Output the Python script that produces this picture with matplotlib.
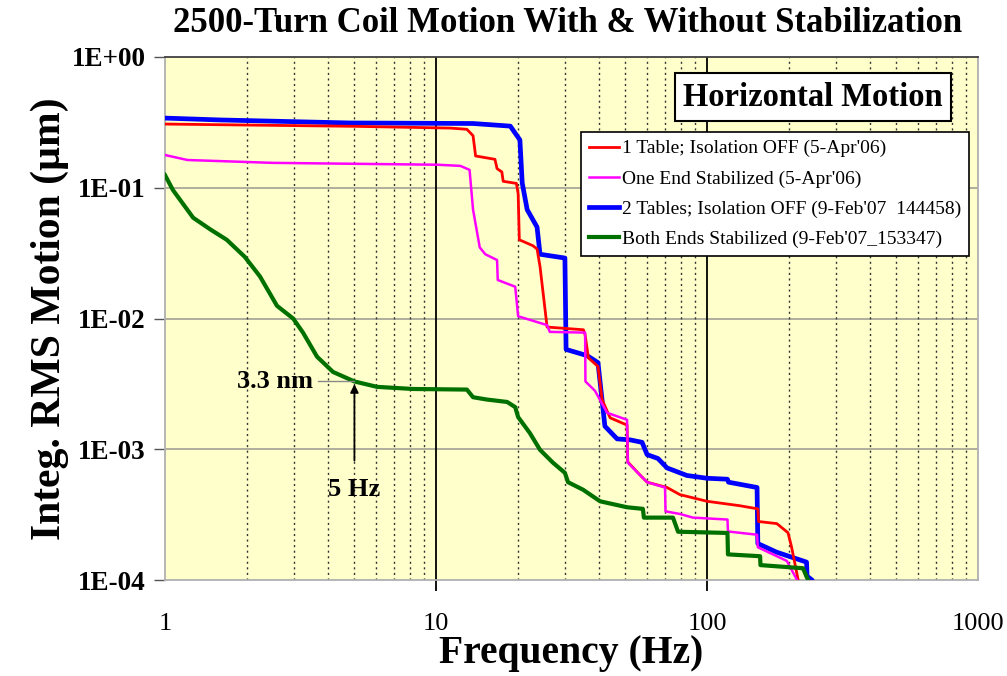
import matplotlib
matplotlib.use('Agg')

import matplotlib.pyplot as plt
from matplotlib.ticker import FixedLocator, NullFormatter, NullLocator

plt.rcParams['font.family'] = ['Liberation Serif', 'DejaVu Serif']

# integrated RMS motion (um) vs frequency (Hz), step-like curves
red_f = [1, 5, 11.3, 13.0, 13.7, 14.0, 16.5, 16.8, 17.5, 17.7, 19.8, 20.1, 20.3, 22.8, 23.6, 24.2,
         25.7, 35.0, 35.5, 36.5, 39.6, 41.0, 43.9, 50.7, 51.0, 56.0, 60.1, 71.2, 79.4, 100, 132,
         154, 155, 181, 199, 205, 217, 225]
red_v = [0.307, 0.295, 0.286, 0.28, 0.25, 0.175, 0.165, 0.14, 0.132, 0.112, 0.108, 0.09, 0.040,
         0.036, 0.034, 0.025, 0.0086, 0.0082, 0.0075, 0.0050, 0.0043, 0.0024, 0.00174, 0.00153,
         0.0008, 0.00065, 0.00056, 0.00051, 0.00045, 0.0004, 0.00037, 0.00035, 0.00028, 0.00027,
         0.00023, 0.00018, 0.0001, 0.00008]

pink_f = [1, 1.21, 2.5, 10.1, 12.3, 13.3, 13.7, 14.5, 15.2, 16.8, 16.9, 19.6, 20.1, 25.7, 26.3,
          35.5, 35.6, 38.6, 42.8, 50.7, 51.0, 60.1, 70.0, 70.3, 79.4, 88.7, 119, 119.5, 153, 154,
          197, 215, 222]
pink_v = [0.178, 0.163, 0.155, 0.15, 0.147, 0.137, 0.068, 0.035, 0.031, 0.028, 0.0197, 0.0175,
          0.0104, 0.0089, 0.0079, 0.0078, 0.0033, 0.0028, 0.0019, 0.00168, 0.00079, 0.00056,
          0.00051, 0.000335, 0.00032, 0.0003, 0.00029, 0.000235, 0.000222, 0.000178, 0.00014,
          0.0001, 0.00008]

blue_f = [1, 1.6, 4.8, 13.7, 18.8, 20.4, 20.8, 21.7, 23.6, 24.2, 29.9, 30.2, 36.1, 39.6, 42.0,
          46.6, 52.0, 57.6, 60.1, 65.9, 71.2, 84.3, 100, 119, 120, 153, 154, 181, 233, 234, 244,
          250]
blue_v = [0.341, 0.33, 0.313, 0.31, 0.296, 0.232, 0.109, 0.068, 0.050, 0.031, 0.029, 0.0058,
          0.0052, 0.0046, 0.0015, 0.0012, 0.00118, 0.00113, 0.00091, 0.00085, 0.00072, 0.00063,
          0.0006, 0.00059, 0.00056, 0.00051, 0.00019, 0.000163, 0.000137, 0.000107, 0.0001,
          0.00009]

green_f = [1, 1.07, 1.27, 1.47, 1.69, 1.97, 2.24, 2.59, 2.97, 3.23, 3.64, 4.17, 5.0, 6.06, 8.23,
           13.0, 13.7, 15.4, 18.3, 19.6, 20.1, 22.2, 24.2, 27.0, 29.9, 30.7, 34.9, 40.3, 50.7,
           58.0, 58.5, 74.9, 78.2, 119, 119.5, 157, 157.5, 226, 236, 240]
green_v = [0.125, 0.096, 0.059, 0.048, 0.040, 0.0296, 0.021, 0.0125, 0.0100, 0.0078, 0.0051,
           0.0039, 0.0033, 0.0030, 0.00289, 0.00286, 0.0025, 0.0024, 0.0023, 0.0021, 0.00176,
           0.00133, 0.00099, 0.00079, 0.00066, 0.00056, 0.00049, 0.0004, 0.00036, 0.00035,
           0.0003, 0.0003, 0.000234, 0.000229, 0.000157, 0.000152, 0.00013, 0.000123, 0.0001,
           0.00009]

labels = ["1 Table; Isolation OFF (5-Apr'06)",
          "One End Stabilized (5-Apr'06)",
          "2 Tables; Isolation OFF (9-Feb'07  144458)",
          "Both Ends Stabilized (9-Feb'07_153347)"]

x_ticks = [1, 10, 100, 1000]
x_ticklabels = ['1', '10', '100', '1000']
y_ticks = [1e-4, 1e-3, 1e-2, 1e-1, 1]
y_ticklabels = ['1E-04', '1E-03', '1E-02', '1E-01', '1E+00']

marker_f = 5.0
marker_v = 0.0033

W, H = 1007, 676
fig = plt.figure(figsize=(W / 100, H / 100), dpi=100)
fig.patch.set_facecolor('white')
ax = fig.add_axes([165 / W, 1 - 580 / H, (978 - 165) / W, (580 - 57) / H])
ax.set_facecolor('#FFFFCC')
ax.set_xscale('log')
ax.set_yscale('log')
ax.set_xlim(1, 1000)
ax.set_ylim(1e-4, 1)

# grid: gray decades on y, solid black decades + dotted minors on x
for v in y_ticks[1:-1]:
    ax.axhline(v, color='#A8A898', lw=1.3, zorder=1)
for f in [10, 100]:
    ax.axvline(f, color='black', lw=1.3, zorder=1)
minors = [m * d for d in [1, 10, 100] for m in range(2, 10)]
for f in minors:
    ax.axvline(f, color='#333333', lw=1.0, ls=(0, (1.5, 2.5)), zorder=1)

ax.plot(red_f, red_v, color='#FF0000', lw=2.0, label=labels[0], zorder=3)
ax.plot(pink_f, pink_v, color='#FF00FF', lw=1.8, label=labels[1], zorder=3)
ax.plot(blue_f, blue_v, color='#0000FF', lw=3.4, label=labels[2], zorder=2.9)
ax.plot(green_f, green_v, color='#007000', lw=3.0, label=labels[3], zorder=3)

ax.xaxis.set_major_locator(FixedLocator(x_ticks))
ax.set_xticklabels(x_ticklabels)
ax.xaxis.set_minor_locator(NullLocator())
ax.xaxis.set_minor_formatter(NullFormatter())
ax.yaxis.set_major_locator(FixedLocator(y_ticks))
ax.set_yticklabels(y_ticklabels)
ax.yaxis.set_minor_locator(NullLocator())
ax.yaxis.set_minor_formatter(NullFormatter())
ax.tick_params(axis='x', length=8, width=1.3, color='black', pad=16, labelsize=19)
ax.tick_params(axis='y', length=8, width=1.0, color='#555555', pad=6, labelsize=19.5)
for lab in ax.get_yticklabels():
    lab.set_fontweight('bold')
# only the inner decades get a tick mark below the axis
xt = ax.xaxis.get_major_ticks()
xt[0].tick1line.set_visible(False)
xt[-1].tick1line.set_visible(False)

for side in ['left', 'bottom', 'right']:
    ax.spines[side].set_color('#B0B0B0')
    ax.spines[side].set_linewidth(1.3)
ax.spines['top'].set_color('#404040')
ax.spines['top'].set_linewidth(1.3)

ax.set_xlabel('Frequency (Hz)', fontsize=28.5, fontweight='bold', labelpad=0)
ax.set_ylabel('Integ. RMS Motion (\u00b5m)', fontsize=30, fontweight='bold', labelpad=2)
fig.text(568 / W, 1 - 24 / H, '2500-Turn Coil Motion With & Without Stabilization',
         ha='center', va='center', fontsize=25, fontweight='bold')

ax.text(813 / W, 1 - 97 / H, 'Horizontal Motion', transform=fig.transFigure,
        ha='center', va='center', fontsize=23.5, fontweight='bold', zorder=6,
        bbox=dict(boxstyle='square,pad=0.25', fc='white', ec='black', lw=1.5))

leg = ax.legend(loc='upper left', bbox_to_anchor=(581 / W, 1 - 132 / H),
                bbox_transform=fig.transFigure, fontsize=14, frameon=True,
                fancybox=False, framealpha=1, edgecolor='black', handlelength=1.55,
                handletextpad=0.15, labelspacing=0.64, borderpad=0.4, borderaxespad=0)
leg.get_frame().set_linewidth(1.2)

# 5 Hz marker
ax.plot([3.67, marker_f], [marker_v, marker_v], color='#888888', lw=1.0, zorder=4)
ax.annotate('', xy=(marker_f, marker_v), xytext=(marker_f, 0.00078),
            arrowprops=dict(arrowstyle='-|>', color='black', lw=1.3, mutation_scale=12),
            zorder=5)
ax.text(3.52, marker_v, '%.1f nm' % (marker_v * 1000), ha='right', va='center',
        fontsize=19, fontweight='bold')
ax.text(marker_f, 0.00049, '%d Hz' % marker_f, ha='center', va='center',
        fontsize=19, fontweight='bold')

fig.savefig('out.png', dpi=100)
